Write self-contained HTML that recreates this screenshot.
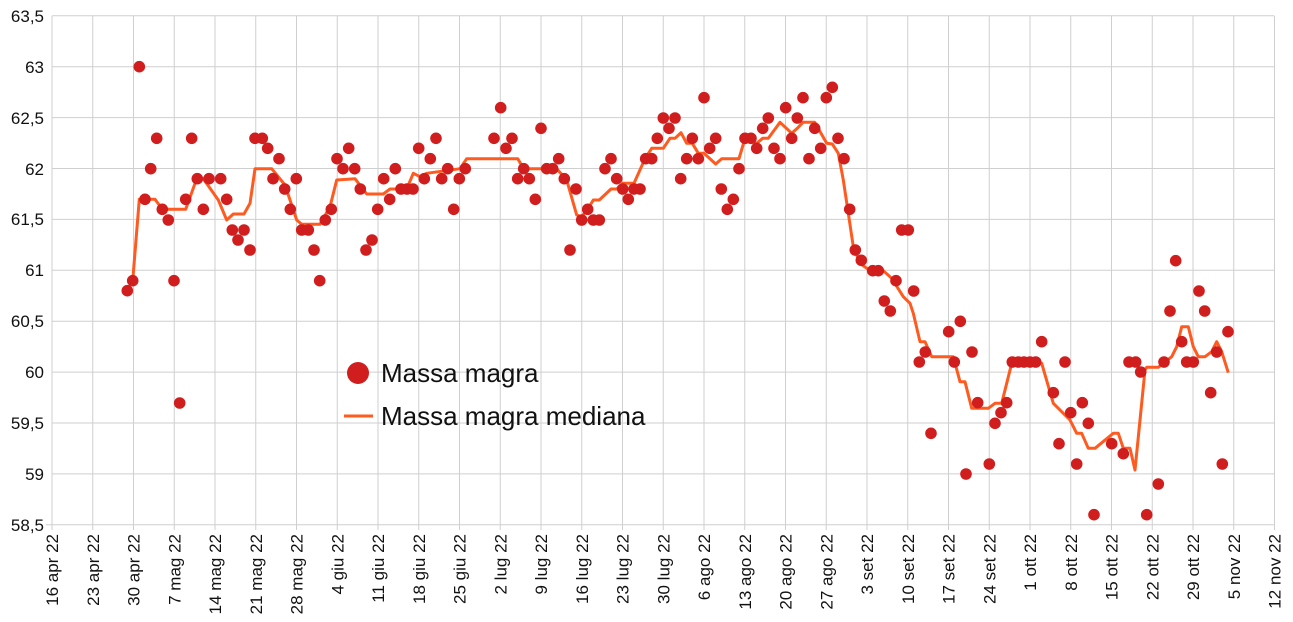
<!DOCTYPE html>
<html><head><meta charset="utf-8"><style>
html,body{margin:0;padding:0;background:#fff;}
svg{display:block;font-family:"Liberation Sans",sans-serif;}
</style></head><body>
<svg width="1293" height="622" viewBox="0 0 1293 622" xmlns="http://www.w3.org/2000/svg">
<g stroke="#cfcfcf" stroke-width="1">
<line x1="52" y1="15.8" x2="1274" y2="15.8"/><line x1="52" y1="66.7" x2="1274" y2="66.7"/>
<line x1="52" y1="117.6" x2="1274" y2="117.6"/><line x1="52" y1="168.5" x2="1274" y2="168.5"/>
<line x1="52" y1="219.4" x2="1274" y2="219.4"/><line x1="52" y1="270.3" x2="1274" y2="270.3"/>
<line x1="52" y1="321.2" x2="1274" y2="321.2"/><line x1="52" y1="372.1" x2="1274" y2="372.1"/>
<line x1="52" y1="423" x2="1274" y2="423"/><line x1="52" y1="473.9" x2="1274" y2="473.9"/>
<line x1="46" y1="524.8" x2="1274" y2="524.8"/>
</g>
<g id="vg" stroke="#cfcfcf" stroke-width="1"></g>
<g font-size="17" fill="#111" text-anchor="end">
<text x="44" y="22">63,5</text><text x="44" y="73">63</text><text x="44" y="124">62,5</text>
<text x="44" y="175">62</text><text x="44" y="225">61,5</text><text x="44" y="276">61</text>
<text x="44" y="327">60,5</text><text x="44" y="378">60</text><text x="44" y="429">59,5</text>
<text x="44" y="480">59</text><text x="44" y="531">58,5</text>
</g>
<g id="xl" font-size="17" fill="#111" text-anchor="end"></g>
<polyline fill="none" stroke="#ff5a1f" stroke-width="3" stroke-linejoin="round" points="132.7,280.7 139.3,199.3 155,199.3 162.3,209.3 185.7,209.3 196.7,178.7 203.3,178.7 218.3,200 226.7,220 233.3,214 244,214 250,203.3 255,168.7 271.7,168.7 285,185 296.7,220 301.7,224.3 320,224.3 330,206.7 336.7,180 355,178.7 366.7,194 383.3,194 390,189 406.7,189 413.3,173.3 420,176.7 426.7,173.3 460,168.7 466.7,158.7 517.7,158.7 523.7,168.7 556.7,168.7 566.7,180 576.7,215 581.7,216.7 588.3,208.3 593.3,200 599.3,200 611,189 616.7,189 622.7,183.3 634,183.3 645,158.7 651.7,148.3 663.3,148.3 670,138.3 675,138.3 681,132.7 686.7,143.3 692.3,143.3 698.3,153.3 704,153.3 715.7,164 721.7,158.7 739,158.7 745,138.3 756.7,143.3 762.7,138.3 768.3,138.3 780,122.3 791.7,133.3 797.3,128.3 803,122.3 814.7,122.3 826.7,143.3 832.3,144 838.3,153.3 843.3,180 848.3,213.3 853.3,246.7 860,263.3 870,270.7 883.3,270.7 891.7,278.3 903.3,296.7 910,303.3 913.3,313.3 920,341.7 925,341.7 931.7,356.7 953.3,356.7 960,381.7 965,381.7 971.7,408.3 988.3,408.3 995,403.3 1001.7,403.3 1011.7,363.3 1041.7,363.3 1053.3,403.3 1063.3,413.3 1070,420 1076.7,433.3 1081.7,433.3 1088.3,448.3 1095,448.3 1113.3,433.3 1118.3,433.3 1123.3,448.3 1130,448.3 1135,470 1145,370 1146.7,367.3 1158.3,367.3 1171.7,356.7 1176.7,346.7 1181.7,326.7 1188.3,326.7 1193.3,346.7 1198.3,356.7 1205,356.7 1211.7,351.7 1216.7,341.7 1221.7,351.7 1228.3,372.7"/>
<g id="pts" fill="#d01d1d"></g>
<circle cx="358" cy="373" r="11" fill="#d01d1d"/>
<text x="381" y="382" font-size="26" fill="#111">Massa magra</text>
<line x1="344" y1="416" x2="373" y2="416" stroke="#ff5a1f" stroke-width="3"/>
<text x="381" y="425" font-size="26" fill="#111">Massa magra mediana</text>
</svg>
<script>
var ns="http://www.w3.org/2000/svg";
var vg=document.getElementById("vg"),xl=document.getElementById("xl");
var labs=["16 apr 22","23 apr 22","30 apr 22","7 mag 22","14 mag 22","21 mag 22","28 mag 22","4 giu 22","11 giu 22","18 giu 22","25 giu 22","2 lug 22","9 lug 22","16 lug 22","23 lug 22","30 lug 22","6 ago 22","13 ago 22","20 ago 22","27 ago 22","3 set 22","10 set 22","17 set 22","24 set 22","1 ott 22","8 ott 22","15 ott 22","22 ott 22","29 ott 22","5 nov 22","12 nov 22"];
for(var k=0;k<=30;k++){var x=52+40.75*k;
var l=document.createElementNS(ns,"line");l.setAttribute("x1",x);l.setAttribute("x2",x);l.setAttribute("y1",15.8);l.setAttribute("y2",530);vg.appendChild(l);
var t=document.createElementNS(ns,"text");t.setAttribute("transform","translate("+(x+6)+",534) rotate(-90)");t.textContent=labs[k];xl.appendChild(t);}
var P=[127.3,290.7,132.7,280.7,139.3,66.7,145,199.3,150.7,168.7,156.7,138.3,162.3,209.3,168.3,220,174,280.7,179.7,403,185.7,199.3,191.7,138.3,197.3,178.7,203.3,209.3,209,178.7,220.7,178.7,226.7,199.3,232.3,230,238,240,244,230,250,250,255,138.3,262.3,138.3,267.7,148.3,273,178.7,279,158.7,284.7,189,290.3,209.3,296.3,178.7,301.7,230,308.3,230,314,250,319.7,280.7,325.3,220,331.3,209.3,337,158.7,343,168.7,348.7,148.3,354.7,168.7,360.3,189,366,250,372,240,377.7,209.3,383.7,178.7,389.7,199.3,395.3,168.7,401,189,407,189,413,189,418.7,148.3,424.3,178.7,430.3,158.7,436,138.3,441.7,178.7,447.7,168.7,453.7,209.3,459.3,178.7,465.3,168.7,494,138.3,500.7,107.7,506,148.3,512,138.3,517.7,178.7,523.7,168.7,529.3,178.7,535.3,199.3,541,128.3,546.7,168.7,552.7,168.7,558.7,158.7,564.3,178.7,570,250,576,189,581.7,220,587.7,209.3,593.3,220,599.3,220,605,168.7,611,158.7,616.7,178.7,622.7,189,628.3,199.3,634,189,640,189,645.7,158.7,651.7,158.7,657.3,138.3,663.3,118,669,128.3,675,118,680.7,178.7,686.7,158.7,692.3,138.3,698.3,158.7,704,97.7,709.7,148.3,715.7,138.3,721.3,189,727.3,209.3,733.3,199.3,739,168.7,745,138.3,751,138.3,756.7,148.3,762.7,128.3,768.3,118,774,148.3,780,158.7,785.7,107.7,791.7,138.3,797.3,118,803,97.7,809,158.7,814.7,128.3,820.7,148.3,826.3,97.7,832.3,87.3,838,138.3,844,158.7,849.7,209.3,855.3,250,861.3,260.3,872.7,270.7,878.3,270.7,884.3,301,890.3,311,896,280.7,901.7,230,908.3,230,913.7,291,919.3,362,925.3,352,931,433.3,948.7,331.7,954.3,362,960.3,321.3,966,474,972,352,977.7,402.7,989.3,464,995,423.3,1001,412.7,1006.7,402.7,1012.3,362,1018.3,362,1024,362,1030,362,1035.7,362,1041.7,341.7,1053.3,392.7,1059,443.7,1065,362,1070.7,412.7,1076.7,464,1082.3,402.7,1088.3,423.3,1094,514.7,1111.7,443.7,1123.3,453.7,1129,362,1135.7,362,1140.7,372,1146.7,514.7,1158.3,484,1164,362,1170,311,1175.7,260.7,1181.7,341.7,1186.7,362,1193.3,362,1199,291,1204.7,311,1210.7,392.7,1216.7,352,1222.3,464,1228,331.7];
var g=document.getElementById("pts");
for(var i=0;i<P.length;i+=2){var c=document.createElementNS(ns,"circle");c.setAttribute("cx",P[i]);c.setAttribute("cy",P[i+1]);c.setAttribute("r",5.8);g.appendChild(c);}
</script>
</body></html>
